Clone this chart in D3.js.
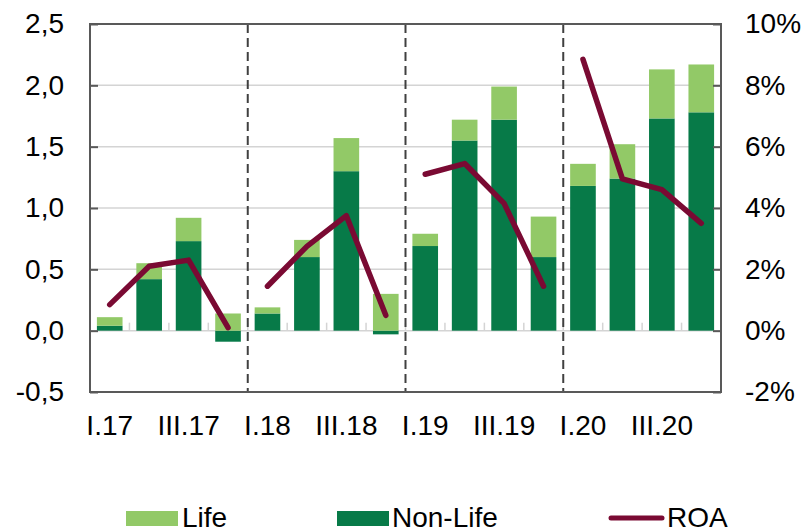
<!DOCTYPE html>
<html>
<head>
<meta charset="utf-8">
<script src="https://cdn.jsdelivr.net/npm/d3@7"></script>
<style>
  body { margin: 0; background: #fff; }
  text { font-family: "Liberation Sans", Arial, sans-serif; fill: #000; }
</style>
</head>
<body>
<svg width="808" height="529"></svg>
<script>
// quarters and values
var quarters = ["I.17","II.17","III.17","IV.17","I.18","II.18","III.18","IV.18",
                "I.19","II.19","III.19","IV.19","I.20","II.20","III.20","IV.20"];
var nonLife = [0.04, 0.42, 0.73, -0.09, 0.14, 0.60, 1.30, -0.03,
               0.69, 1.55, 1.72, 0.60, 1.18, 1.24, 1.73, 1.78];
var life = [0.07, 0.13, 0.19, 0.14, 0.05, 0.14, 0.27, 0.30,
            0.10, 0.17, 0.27, 0.33, 0.18, 0.28, 0.40, 0.39];
var roa = [0.85, 2.1, 2.3, 0.1, 1.45, 2.75, 3.75, 0.5,
           5.1, 5.45, 4.15, 1.45, 8.85, 4.95, 4.6, 3.5];
var leftTicks = [-0.5, 0, 0.5, 1, 1.5, 2, 2.5];
var rightTicks = [-2, 0, 2, 4, 6, 8, 10];
var yearStarts = ["I.18", "I.19", "I.20"];

var colLife = "#92c967", colNonLife = "#077a48", colRoa = "#7a0a33", frame = "#595959";

var svg = d3.select("svg");
var plotL = 90, plotR = 721, plotT = 24, plotB = 392;

var x = d3.scaleBand().domain(quarters).range([plotL, plotR]).paddingInner(0.35).paddingOuter(0.175);
var y = d3.scaleLinear().domain([-0.5, 2.5]).range([plotB, plotT]);
var y2 = d3.scaleLinear().domain([-2, 10]).range([plotB, plotT]);
var step = x.step();
var gap = (step - x.bandwidth()) / 2;
var commaFmt = function (d) { return d3.format(".1f")(d).replace(".", ",").replace("\u2212", "-"); };

// gridlines
svg.append("g").selectAll("line")
  .data(leftTicks.filter(function (d) { return d > -0.5 && d < 2.5; }))
  .enter().append("line")
  .attr("x1", plotL).attr("x2", plotR)
  .attr("y1", function (d) { return y(d); }).attr("y2", function (d) { return y(d); })
  .style("stroke", "#d4d4d4").style("stroke-width", 1.5);

// small ticks on zero line between categories
svg.append("g").selectAll("line")
  .data(quarters.slice(1))
  .enter().append("line")
  .attr("x1", function (d) { return x(d) - gap; })
  .attr("x2", function (d) { return x(d) - gap; })
  .attr("y1", y(0)).attr("y2", y(0) - 8)
  .style("stroke", "#d4d4d4").style("stroke-width", 1.5);

// bars
var bars = svg.append("g");
quarters.forEach(function (q, i) {
  var nl = nonLife[i], lf = life[i];
  bars.append("rect")
    .attr("x", x(q)).attr("width", x.bandwidth())
    .attr("y", y(Math.max(0, nl))).attr("height", Math.abs(y(nl) - y(0)))
    .style("fill", colNonLife);
  var base = Math.max(0, nl);
  bars.append("rect")
    .attr("x", x(q)).attr("width", x.bandwidth())
    .attr("y", y(base + lf)).attr("height", y(base) - y(base + lf))
    .style("fill", colLife);
});

// dashed year separators
svg.append("g").selectAll("line")
  .data(yearStarts)
  .enter().append("line")
  .attr("x1", function (d) { return x(d) - gap; })
  .attr("x2", function (d) { return x(d) - gap; })
  .attr("y1", plotT).attr("y2", plotB)
  .style("stroke", "#404040").style("stroke-width", 2).style("stroke-dasharray", "9,5");

// frame
svg.append("rect")
  .attr("x", plotL).attr("y", plotT).attr("width", plotR - plotL).attr("height", plotB - plotT)
  .style("fill", "none").style("stroke", frame).style("stroke-width", 2);

// left axis
var ya = svg.append("g").attr("transform", "translate(" + plotL + ",0)")
  .call(d3.axisLeft(y).tickValues(leftTicks).tickFormat(commaFmt).tickSizeInner(-8).tickSizeOuter(0).tickPadding(26));
ya.select(".domain").remove();
ya.selectAll(".tick line").style("stroke", frame).style("stroke-width", 2);
ya.selectAll("text").style("font-size", "28px").attr("fill", "#000")
  .attr("font-family", "Liberation Sans, Arial, sans-serif");

// right axis
var yb = svg.append("g").attr("transform", "translate(" + plotR + ",0)")
  .call(d3.axisRight(y2).tickValues(rightTicks).tickFormat(function (d) { return d + "%"; })
    .tickSizeInner(-8).tickSizeOuter(0).tickPadding(24));
yb.select(".domain").remove();
yb.selectAll(".tick line").style("stroke", frame).style("stroke-width", 2);
yb.selectAll("text").style("font-size", "28px").attr("fill", "#000")
  .attr("font-family", "Liberation Sans, Arial, sans-serif");

// x labels, only I and III quarters
svg.append("g").selectAll("text")
  .data(quarters.filter(function (d, i) { return i % 2 === 0; }))
  .enter().append("text")
  .attr("x", function (d) { return x(d) + x.bandwidth() / 2; })
  .attr("y", 435)
  .attr("text-anchor", "middle")
  .style("font-size", "28px")
  .text(function (d) { return d; });

// ROA line, broken at each year
[[0, 4], [4, 8], [8, 12], [12, 16]].forEach(function (r) {
  var seg = roa.slice(r[0], r[1]);
  svg.append("path")
    .datum(seg)
    .attr("d", d3.line()
      .x(function (d, i) { return x(quarters[r[0] + i]) + x.bandwidth() / 2; })
      .y(function (d) { return y2(d); }))
    .style("fill", "none").style("stroke", colRoa).style("stroke-width", 5.5)
    .style("stroke-linecap", "round").style("stroke-linejoin", "round");
});

// legend
var lg = svg.append("g");
lg.append("rect").attr("x", 126).attr("y", 511).attr("width", 52).attr("height", 15).style("fill", colLife);
lg.append("text").attr("x", 182).attr("y", 527).style("font-size", "28px").text("Life");
lg.append("rect").attr("x", 337).attr("y", 511).attr("width", 52).attr("height", 15).style("fill", colNonLife);
lg.append("text").attr("x", 392).attr("y", 527).style("font-size", "28px").text("Non-Life");
lg.append("line").attr("x1", 611).attr("x2", 662).attr("y1", 518).attr("y2", 518)
  .style("stroke", colRoa).style("stroke-width", 5).style("stroke-linecap", "round");
lg.append("text").attr("x", 667).attr("y", 527).style("font-size", "28px").text("ROA");
</script>
</body>
</html>
